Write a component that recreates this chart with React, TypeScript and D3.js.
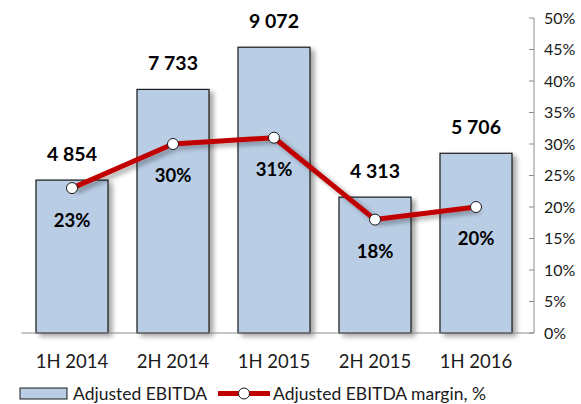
import React, { useEffect, useRef } from 'react';
import * as d3 from 'd3';

const categories = ['1H 2014', '2H 2014', '1H 2015', '2H 2015', '1H 2016'];
const ebitda = [4854, 7733, 9072, 4313, 5706];
const ebitdaLabels = ['4 854', '7 733', '9 072', '4 313', '5 706'];
const margin = [23, 30, 31, 18, 20];
const pctTicks = [0, 5, 10, 15, 20, 25, 30, 35, 40, 45, 50];

const W = 581;
const H = 404;
const FONT = 'Lato, "Open Sans", sans-serif';

const App = () => {
    const ref = useRef<SVGSVGElement>(null);

    useEffect(() => {
        const svg = d3.select(ref.current);
        svg.selectAll('*').remove();

        const x = d3.scaleBand<string>()
            .domain(categories)
            .range([21.5, 526.5])
            .paddingInner(0.287)
            .paddingOuter(0.1435);
        const yBar = d3.scaleLinear().domain([0, 10000]).range([333, 18]);
        const yPct = d3.scaleLinear().domain([0, 50]).range([333, 18]);

        const defs = svg.append('defs');
        const shadow = defs.append('filter').attr('id', 'shadow')
            .attr('x', '-20%').attr('y', '-20%').attr('width', '150%').attr('height', '150%');
        shadow.append('feGaussianBlur').attr('in', 'SourceAlpha').attr('stdDeviation', 2.5);
        shadow.append('feOffset').attr('dx', 4).attr('dy', 3).attr('result', 'off');
        shadow.append('feComponentTransfer').append('feFuncA').attr('type', 'linear').attr('slope', 0.35);
        const merge = shadow.append('feMerge');
        merge.append('feMergeNode');
        merge.append('feMergeNode').attr('in', 'SourceGraphic');

        // bars
        svg.append('g').selectAll('rect')
            .data(ebitda)
            .enter()
            .append('rect')
            .attr('x', (d, i) => x(categories[i]))
            .attr('y', d => yBar(d))
            .attr('width', x.bandwidth())
            .attr('height', d => yBar(0) - yBar(d))
            .attr('fill', '#b9cde5')
            .attr('stroke', '#1a1a1a')
            .attr('stroke-width', 1.2)
            .attr('filter', 'url(#shadow)');

        // right axis
        const axis = svg.append('g');
        axis.append('line')
            .attr('x1', 534).attr('x2', 534)
            .attr('y1', yPct(50)).attr('y2', yPct(0))
            .attr('stroke', '#8c8c8c');
        axis.append('line')
            .attr('x1', 21.5).attr('x2', 534)
            .attr('y1', yPct(0)).attr('y2', yPct(0))
            .attr('stroke', '#8c8c8c');
        axis.selectAll('.tick')
            .data(pctTicks)
            .enter()
            .append('line')
            .attr('x1', 529).attr('x2', 534)
            .attr('y1', d => yPct(d)).attr('y2', d => yPct(d))
            .attr('stroke', '#8c8c8c');
        axis.selectAll('text')
            .data(pctTicks)
            .enter()
            .append('text')
            .attr('x', 544)
            .attr('y', d => yPct(d))
            .attr('dy', '0.35em')
            .attr('font-family', FONT)
            .attr('font-size', 16)
            .attr('fill', '#1a1a1a')
            .text(d => d + '%');

        // category labels
        svg.append('g').selectAll('text')
            .data(categories)
            .enter()
            .append('text')
            .attr('x', d => x(d) + x.bandwidth() / 2)
            .attr('y', 362)
            .attr('dy', '0.35em')
            .attr('text-anchor', 'middle')
            .attr('font-family', FONT)
            .attr('font-size', 18.5)
            .attr('fill', '#1a1a1a')
            .text(d => d);

        // bar value labels
        svg.append('g').selectAll('text')
            .data(ebitda)
            .enter()
            .append('text')
            .attr('x', (d, i) => x(categories[i]) + x.bandwidth() / 2)
            .attr('y', d => yBar(d) - 19)
            .attr('text-anchor', 'middle')
            .attr('font-family', FONT)
            .attr('font-weight', 'bold')
            .attr('font-size', 19.5)
            .attr('fill', '#000')
            .text((d, i) => ebitdaLabels[i]);

        // margin line
        const line = d3.line<number>()
            .x((d, i) => x(categories[i]) + x.bandwidth() / 2)
            .y(d => yPct(d));
        svg.append('path')
            .datum(margin)
            .attr('d', line)
            .attr('fill', 'none')
            .attr('stroke', '#c00000')
            .attr('stroke-width', 5)
            .attr('stroke-linejoin', 'round')
            .attr('filter', 'url(#shadow)');
        svg.append('g').selectAll('circle')
            .data(margin)
            .enter()
            .append('circle')
            .attr('cx', (d, i) => x(categories[i]) + x.bandwidth() / 2)
            .attr('cy', d => yPct(d))
            .attr('r', 5.5)
            .attr('fill', '#fff')
            .attr('stroke', '#1a1a1a')
            .attr('stroke-width', 1);

        svg.append('g').selectAll('text')
            .data(margin)
            .enter()
            .append('text')
            .attr('x', (d, i) => x(categories[i]) + x.bandwidth() / 2)
            .attr('y', d => yPct(d) + 32)
            .attr('dy', '0.35em')
            .attr('text-anchor', 'middle')
            .attr('font-family', FONT)
            .attr('font-weight', 'bold')
            .attr('font-size', 18.5)
            .attr('fill', '#000')
            .text(d => d + '%');

        // legend
        const legend = svg.append('g');
        legend.append('rect')
            .attr('x', 20).attr('y', 388).attr('width', 47).attr('height', 11)
            .attr('fill', '#b9cde5').attr('stroke', '#1a1a1a').attr('stroke-width', 1);
        legend.append('text')
            .attr('x', 73).attr('y', 393.5).attr('dy', '0.35em')
            .attr('font-family', FONT).attr('font-size', 17.5).attr('fill', '#1a1a1a')
            .text('Adjusted EBITDA');
        legend.append('line')
            .attr('x1', 218).attr('x2', 270).attr('y1', 393.5).attr('y2', 393.5)
            .attr('stroke', '#c00000').attr('stroke-width', 5);
        legend.append('circle')
            .attr('cx', 244).attr('cy', 393.5).attr('r', 5.5)
            .attr('fill', '#fff').attr('stroke', '#1a1a1a');
        legend.append('text')
            .attr('x', 273).attr('y', 393.5).attr('dy', '0.35em')
            .attr('font-family', FONT).attr('font-size', 17.5).attr('fill', '#1a1a1a')
            .text('Adjusted EBITDA margin, %');
    }, []);

    return (
        <svg ref={ref} width={W} height={H}
            style={{ position: 'absolute', left: 0, top: 0, background: '#fff' }} />
    );
};

export default App;
